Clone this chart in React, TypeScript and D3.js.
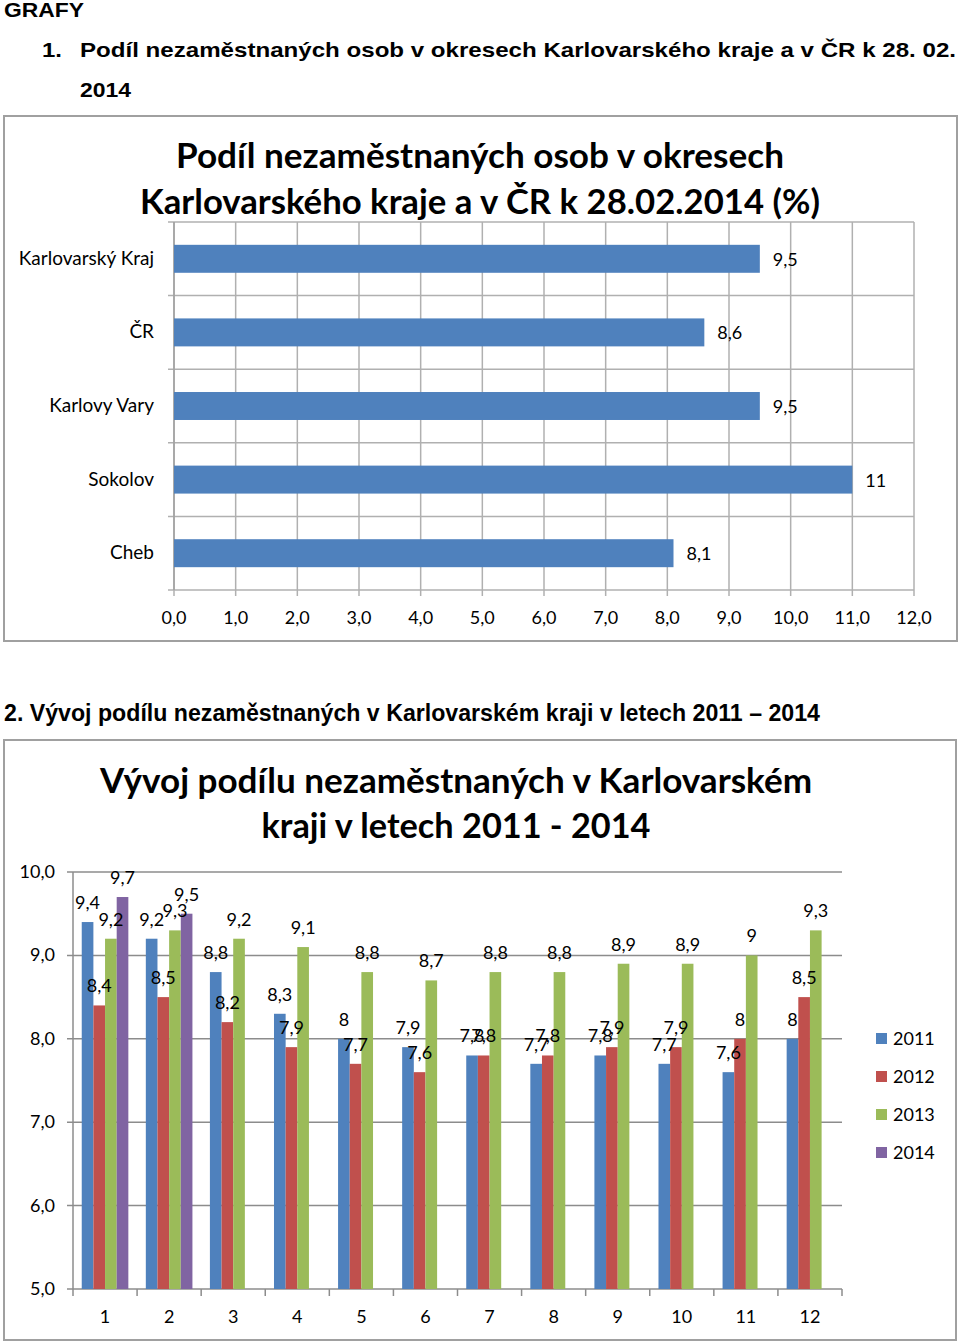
import React from "react";
import * as d3 from "d3";

const barCategories = ["Karlovarský Kraj", "ČR", "Karlovy Vary", "Sokolov", "Cheb"];
const barValues = [9.5, 8.6, 9.5, 11, 8.1];
const barTicks = [0, 1, 2, 3, 4, 5, 6, 7, 8, 9, 10, 11, 12];

const months = ["1", "2", "3", "4", "5", "6", "7", "8", "9", "10", "11", "12"];
const seriesNames = ["2011", "2012", "2013", "2014"];
const v2011 = [9.4, 9.2, 8.8, 8.3, 8.0, 7.9, 7.8, 7.7, 7.8, 7.7, 7.6, 8.0];
const v2012 = [8.4, 8.5, 8.2, 7.9, 7.7, 7.6, 7.8, 7.8, 7.9, 7.9, 8.0, 8.5];
const v2013 = [9.2, 9.3, 9.2, 9.1, 8.8, 8.7, 8.8, 8.8, 8.9, 8.9, 9.0, 9.3];
const v2014 = [9.7, 9.5, null, null, null, null, null, null, null, null, null, null];
const colTicks = [5, 6, 7, 8, 9, 10];

const colors = ["#4F81BD", "#C0504D", "#9BBB59", "#8064A2"];
const FONT = "Lato, 'Open Sans', sans-serif";
const ARIAL = "'Liberation Sans', Arial, sans-serif";

const heading1 = "Podíl nezaměstnaných osob v okresech Karlovarského kraje a v ČR k 28. 02.";

const fmtVal = (v: number) => String(v).replace(".", ",");
const fmtTick = (v: number) => v.toFixed(1).replace(".", ",");

export default function App() {
  // top chart
  const xTop = d3.scaleLinear().domain([0, 12]).range([174, 914]);
  const yTop = d3.scaleBand<string>().domain(barCategories).range([222, 590]);
  const barH = yTop.bandwidth() * 0.38;

  // bottom chart
  const x0 = d3.scaleBand<string>().domain(months).range([73, 842]);
  const bw = x0.bandwidth();
  const w = bw / 5.5;
  const x1 = d3.scaleBand<string>().domain(seriesNames).range([0.75 * w, bw - 0.75 * w]);
  const yB = d3.scaleLinear().domain([5, 10]).range([1289, 872]);
  const allSeries = [v2011, v2012, v2013, v2014];

  return (
    <svg width={960} height={1343} style={{ position: "absolute", left: 0, top: 0, background: "#fff" }}>
      <rect x={0} y={0} width={960} height={1343} fill="#fff" />
      {/* document headings */}
      <text x={4} y={17} fontFamily={ARIAL} fontWeight="bold" fontSize={21} textLength={80} lengthAdjust="spacingAndGlyphs">GRAFY</text>
      <text x={42} y={57} fontFamily={ARIAL} fontWeight="bold" fontSize={21} textLength={20} lengthAdjust="spacingAndGlyphs">1.</text>
      <text x={80} y={57} fontFamily={ARIAL} fontWeight="bold" fontSize={21} textLength={876} lengthAdjust="spacingAndGlyphs">
        {heading1}
      </text>
      <text x={80} y={97} fontFamily={ARIAL} fontWeight="bold" fontSize={21} textLength={51} lengthAdjust="spacingAndGlyphs">2014</text>
      <text x={4} y={721} fontFamily={ARIAL} fontWeight="bold" fontSize={23} textLength={816} lengthAdjust="spacingAndGlyphs">
        2. Vývoj podílu nezaměstnaných v Karlovarském kraji v letech 2011 – 2014
      </text>

      {/* top chart frame */}
      <rect x={4} y={116} width={953} height={525} fill="none" stroke="#A0A0A0" strokeWidth={2} />
      <text x={480} y={168} textAnchor="middle" fontFamily={FONT} fontWeight="bold" fontSize={35} textLength={608} lengthAdjust="spacingAndGlyphs">
        Podíl nezaměstnaných osob v okresech
      </text>
      <text x={480} y={214} textAnchor="middle" fontFamily={FONT} fontWeight="bold" fontSize={35} textLength={680} lengthAdjust="spacingAndGlyphs">
        Karlovarského kraje a v ČR k 28.02.2014 (%)
      </text>
      {barTicks.map((t) => (
        <g key={"vt" + t}>
          <line x1={xTop(t)} x2={xTop(t)} y1={222} y2={596} stroke="#B0B0B0" strokeWidth={1.5} />
          <text x={xTop(t)} y={624} textAnchor="middle" fontFamily={FONT} fontSize={18} fill="#000">{fmtTick(t)}</text>
        </g>
      ))}
      {[...barCategories.map((c) => yTop(c)!), 590].map((yy, i) => (
        <line key={"hb" + i} x1={168} x2={914} y1={yy} y2={yy} stroke="#B0B0B0" strokeWidth={1.5} />
      ))}
      <line x1={174} x2={174} y1={222} y2={590} stroke="#A0A0A0" strokeWidth={1.5} />
      {barCategories.map((c, i) => {
        const yc = yTop(c)! + yTop.bandwidth() / 2;
        return (
          <g key={c}>
            <rect x={xTop(0)} y={yc - barH / 2} width={xTop(barValues[i]) - xTop(0)} height={barH} fill={colors[0]} />
            <text x={xTop(barValues[i]) + 13} y={yc + 7} fontFamily={FONT} fontSize={18}>{fmtVal(barValues[i])}</text>
            <text x={154} y={yc + 6} textAnchor="end" fontFamily={FONT} fontSize={19}>{c}</text>
          </g>
        );
      })}

      {/* bottom chart frame */}
      <rect x={4} y={740} width={952} height={600} fill="none" stroke="#A0A0A0" strokeWidth={2} />
      <text x={456} y={793} textAnchor="middle" fontFamily={FONT} fontWeight="bold" fontSize={35} textLength={712} lengthAdjust="spacingAndGlyphs">
        Vývoj podílu nezaměstnaných v Karlovarském
      </text>
      <text x={456} y={838} textAnchor="middle" fontFamily={FONT} fontWeight="bold" fontSize={35} textLength={389} lengthAdjust="spacingAndGlyphs">
        kraji v letech 2011 - 2014
      </text>
      {colTicks.map((t) => (
        <g key={"ct" + t}>
          <line x1={67} x2={842} y1={yB(t)} y2={yB(t)} stroke="#8C8C8C" strokeWidth={1.5} />
          <text x={55} y={yB(t) + 6} textAnchor="end" fontFamily={FONT} fontSize={18}>{fmtTick(t)}</text>
        </g>
      ))}
      <line x1={73} x2={73} y1={872} y2={1289} stroke="#8C8C8C" strokeWidth={1.5} />
      {[...months.map((m) => x0(m)!), 842].map((xx, i) => (
        <line key={"xt" + i} x1={xx} x2={xx} y1={1289} y2={1296} stroke="#8C8C8C" strokeWidth={1.5} />
      ))}
      {months.map((m, mi) => (
        <g key={"m" + m}>
          <text x={x0(m)! + bw / 2} y={1323} textAnchor="middle" fontFamily={FONT} fontSize={18}>{m}</text>
          {allSeries.map((s, si) => {
            const v = s[mi];
            if (v == null) return null;
            const bx = x0(m)! + x1(seriesNames[si])!;
            return (
              <rect key={si} x={bx} y={yB(v)} width={x1.bandwidth()} height={yB(5) - yB(v)} fill={colors[si]} />
            );
          })}
        </g>
      ))}
      {months.map((m, mi) => (
        <g key={"lab" + m}>
          {allSeries.map((s, si) => {
            const v = s[mi];
            if (v == null) return null;
            const bx = x0(m)! + x1(seriesNames[si])! + x1.bandwidth() / 2;
            return (
              <text key={si} x={bx} y={yB(v) - 13} textAnchor="middle" fontFamily={FONT} fontSize={18}>{fmtVal(v)}</text>
            );
          })}
        </g>
      ))}
      {seriesNames.map((s, i) => (
        <g key={"lg" + s}>
          <rect x={876} y={1033 + i * 38} width={11} height={11} fill={colors[i]} />
          <text x={893} y={1045 + i * 38} fontFamily={FONT} fontSize={18}>{s}</text>
        </g>
      ))}
    </svg>
  );
}
